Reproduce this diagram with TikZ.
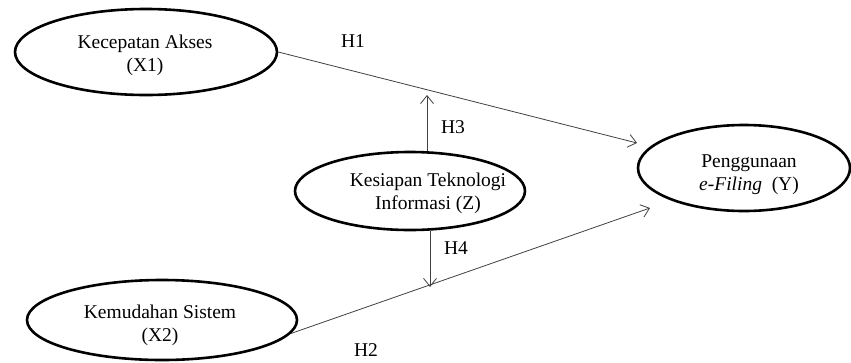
\documentclass[tikz,border=0pt]{standalone}
\usepackage{fontspec}
\setmainfont{Liberation Serif}
\usetikzlibrary{arrows.meta,shapes.geometric}
\begin{document}
\begin{tikzpicture}[x=1pt,y=-1pt,
  every node/.style={font=\fontsize{19.5}{23}\selectfont},
  oval/.style={draw=black,line width=2.6pt,ellipse,inner sep=0pt},
  txt/.style={align=center,inner sep=0pt},
  arr/.style={draw=black!75,line width=0.8pt,-{Straight Barb[length=8pt,width=13pt,line width=0.8pt]}},
  plain/.style={draw=black!75,line width=0.8pt},
  hlab/.style={inner sep=0pt}]
\useasboundingbox (0,0) rectangle (851,362);
\node[oval,minimum width=262pt,minimum height=86pt,
  label={[txt,xshift=-1pt,yshift=-3pt]center:Kecepatan Akses\\(X1)}] (X1) at (146,52) {};
\node[oval,minimum width=230pt,minimum height=78pt,
  label={[txt,xshift=18pt,yshift=-2pt]center:Kesiapan Teknologi\\Informasi (Z)}] (Z) at (410,191) {};
\node[oval,minimum width=212pt,minimum height=86pt,
  label={[txt,xshift=5pt,yshift=-7pt]center:Penggunaan\\\textit{e-Filing}\ \ (Y)}] (Y) at (744,168) {};
\node[oval,minimum width=270pt,minimum height=80pt,
  label={[txt,xshift=-2pt,yshift=-5pt]center:Kemudahan Sistem\\(X2)}] (X2) at (162,320) {};
\coordinate (h1tip) at (637,143);
\coordinate (h2tip) at (650,208);
\coordinate (h3tip) at (427,95);
\coordinate (h4tip) at (430,287);
\draw[arr] (X1.east) -- (h1tip);
\draw[arr] (X2.-6) -- (h2tip);
\draw[arr] (Z.north -| h3tip) -- (h3tip);
\draw[arr] (Z.south -| h4tip) -- (h4tip);
\node[hlab] (H1) at (353,41) {H1};
\node[hlab] (H3) at (453,127) {H3};
\node[hlab] (H4) at (456,248) {H4};
\node[hlab] (H2) at (366,350) {H2};
\end{tikzpicture}
\end{document}
